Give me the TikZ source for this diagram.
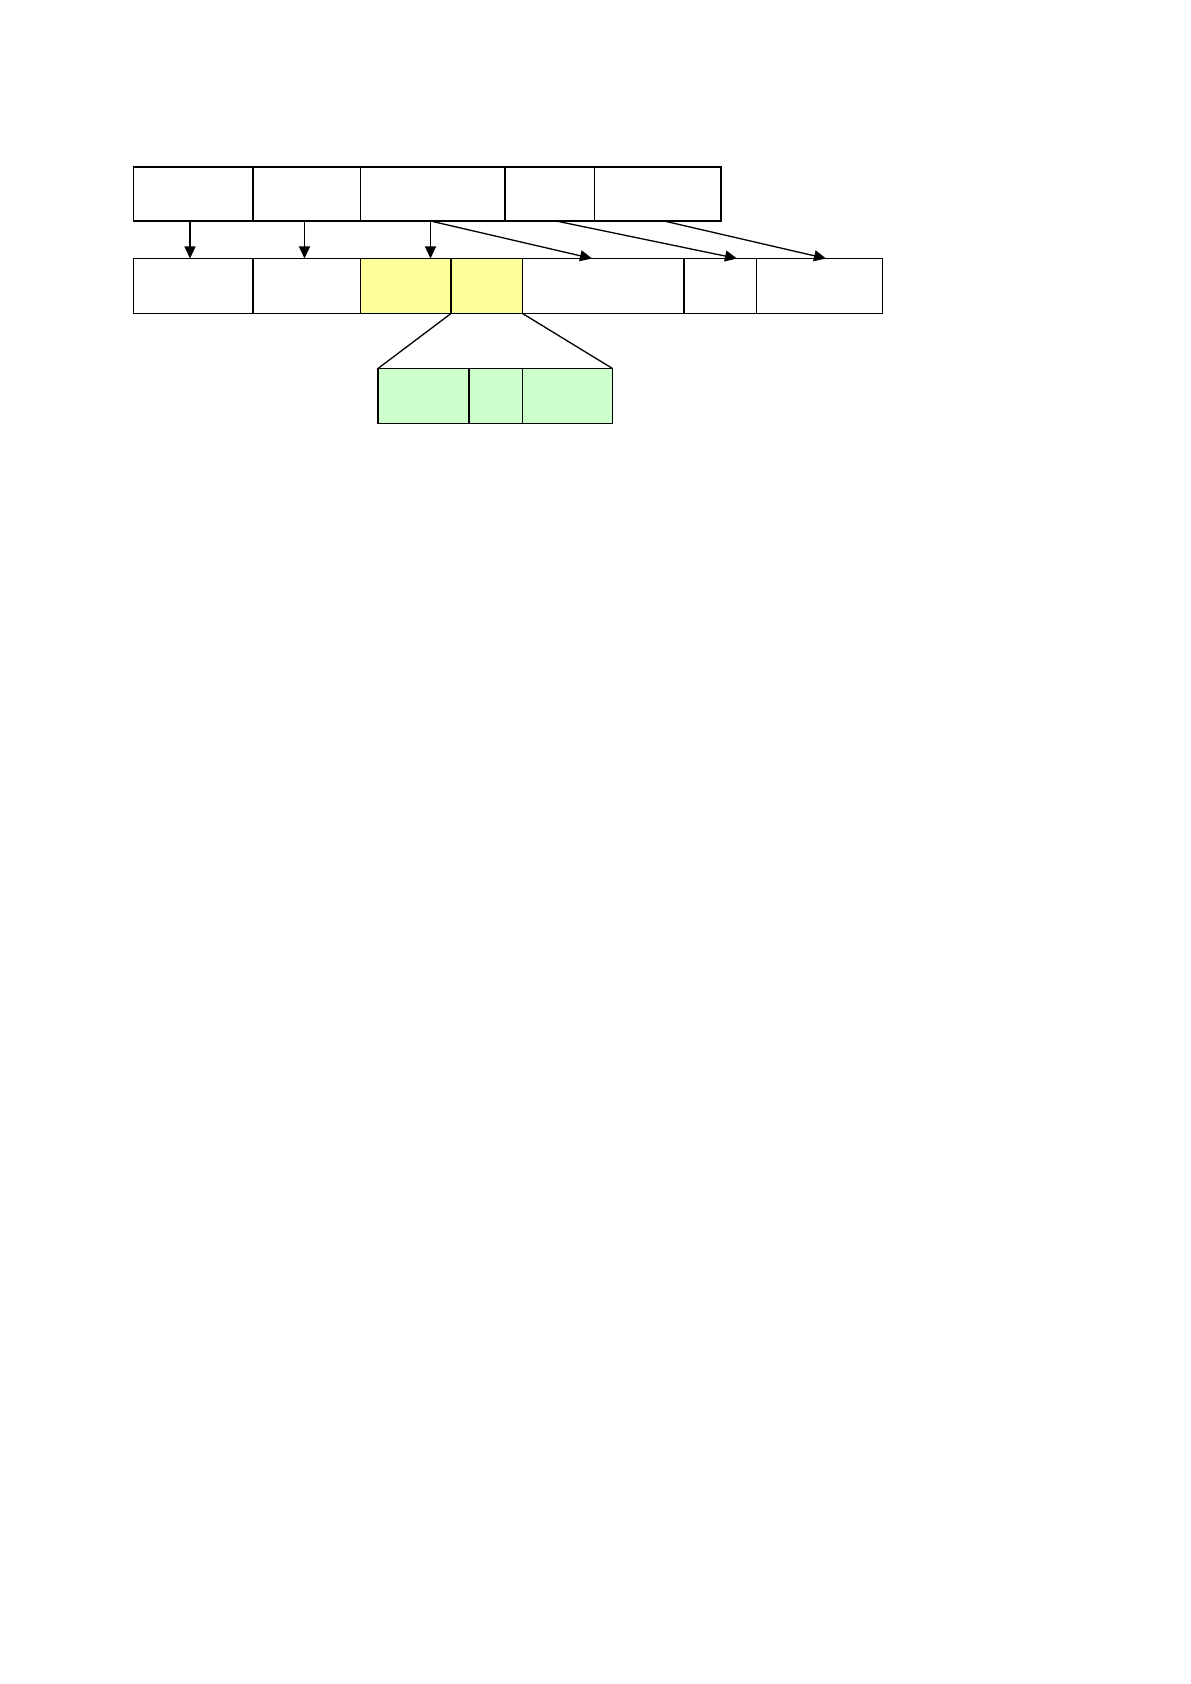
\documentclass[tikz,border=0pt]{standalone}
\usetikzlibrary{arrows.meta,calc}
\definecolor{cellyellow}{HTML}{FFFF99}
\definecolor{cellgreen}{HTML}{CCFFCC}
\tikzset{
  cell/.style={draw=black, line width=0.6pt, inner sep=0pt, outer sep=0pt, anchor=north west},
  conn/.style={draw=black, line width=0.65pt},
  arr/.style={conn, -{Triangle[length=6pt,width=5.5pt]}}
}
\newcommand{\cellbox}[6]{% name, x1, y1, x2, y2, fill
  \node[cell, fill=#6, minimum width={(#4-#2)*0.5pt}, minimum height={(#5-#3)*0.5pt}] (#1) at (#2,#3) {};
}
\begin{document}
\begin{tikzpicture}[x=0.5pt,y=-0.5pt]
\useasboundingbox (0,0) rectangle (1190,1684);
\fill[white] (0,0) rectangle (1190,1684);
% top row
\cellbox{t1}{133.5}{167}{253}{221}{white}
\cellbox{t2}{253}{167}{360.5}{221}{white}
\cellbox{t3}{360.5}{167}{505}{221}{white}
\cellbox{t4}{505}{167}{594.5}{221}{white}
\cellbox{t5}{594.5}{167}{721}{221}{white}
% middle row
\cellbox{m1}{133.5}{258.5}{253}{313.5}{white}
\cellbox{m2}{253}{258.5}{360.5}{313.5}{white}
\cellbox{m3}{360.5}{258.5}{451}{313.5}{cellyellow}
\cellbox{m4}{451}{258.5}{522.5}{313.5}{cellyellow}
\cellbox{m5}{522.5}{258.5}{684}{313.5}{white}
\cellbox{m6}{684}{258.5}{756.5}{313.5}{white}
\cellbox{m7}{756.5}{258.5}{882.5}{313.5}{white}
% green row
\cellbox{g1}{378}{368.5}{469}{423.5}{cellgreen}
\cellbox{g2}{469}{368.5}{522.5}{423.5}{cellgreen}
\cellbox{g3}{522.5}{368.5}{612.5}{423.5}{cellgreen}
% arrow anchor points
\coordinate (s1) at (190,221);
\coordinate (e1) at (190,258.5);
\coordinate (s2) at (304.5,221);
\coordinate (e2) at (304.5,258.5);
\coordinate (s3) at (430.5,221);
\coordinate (e3) at (430.5,258.5);
\coordinate (e4) at (592,258.5);
\coordinate (s5) at (556,221);
\coordinate (e5) at (737,258.5);
\coordinate (s6) at (664,221);
\coordinate (e6) at (826,258.5);
% arrows
\draw[arr] (s1) -- (e1);
\draw[arr] (s2) -- (e2);
\draw[arr] (s3) -- (e3);
\draw[arr] (s3) -- (e4);
\draw[arr] (s5) -- (e5);
\draw[arr] (s6) -- (e6);
% expansion lines
\draw[conn] (m3.south east) -- (g1.north west);
\draw[conn] (m4.south east) -- (g3.north east);
\end{tikzpicture}
\end{document}
